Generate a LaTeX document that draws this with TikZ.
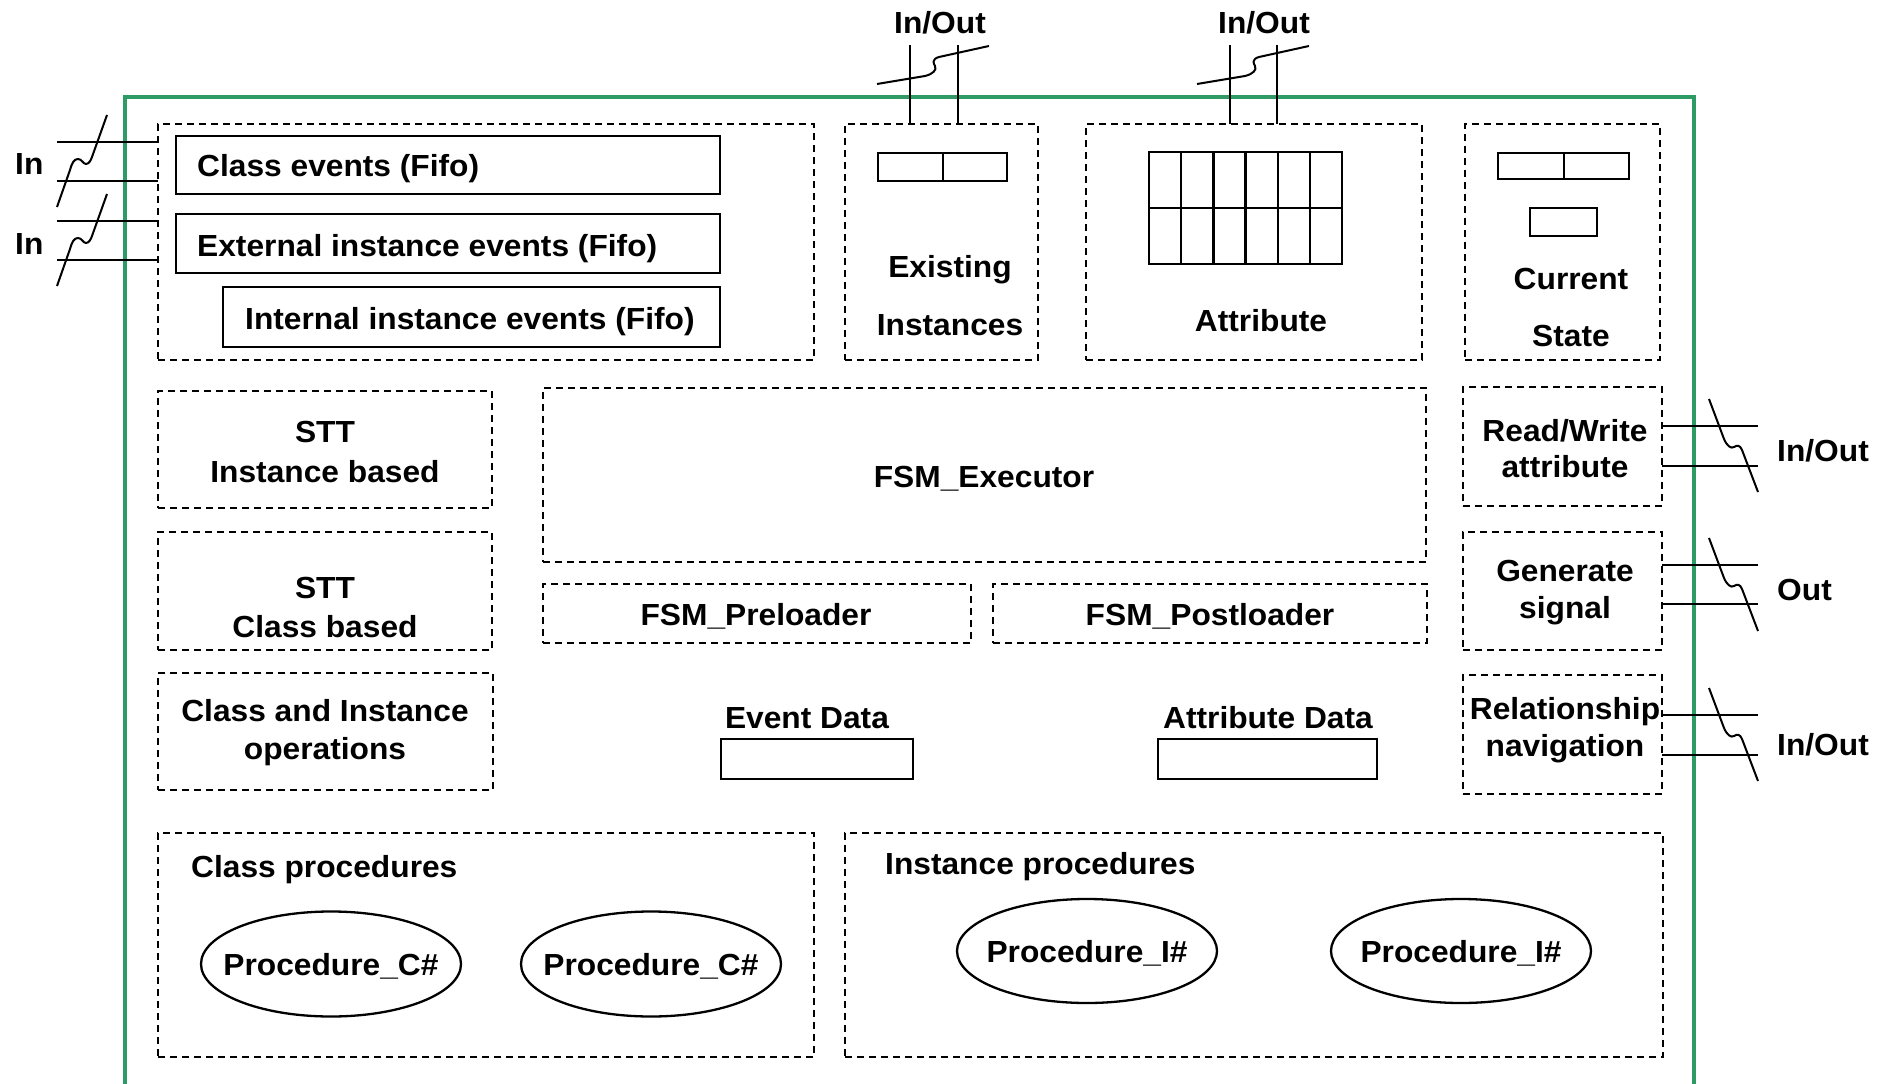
\documentclass[tikz,border=0pt]{standalone}
\usepackage{fontspec}
\usetikzlibrary{shapes.geometric}
\setmainfont{Liberation Sans}[FakeStretch=1.04]
\definecolor{framegreen}{RGB}{46,155,100}
\begin{document}
\begin{tikzpicture}[x=1pt,y=-1pt,
  frame/.style={draw=framegreen,line width=4.5pt},
  dbox/.style={draw,rectangle,inner sep=0pt,outer sep=0pt,line width=1.8pt,
    dash pattern=on 7pt off 5pt,anchor=north west},
  sbox/.style={draw,rectangle,inner sep=0pt,outer sep=0pt,line width=2.3pt,anchor=north west},
  lbl/.style={inner sep=0pt,text height=22pt,text depth=0pt,
    font=\bfseries\fontsize{30.5}{36}\selectfont},
  wire/.style={line width=2pt},
  brk/.style={line width=2pt,line join=round},
  proc/.style={draw,ellipse,line width=2.3pt,minimum width=260pt,minimum height=105pt,inner sep=0pt}
]
\useasboundingbox (0,0) rectangle (1888,1084);

% outer frame, open at the bottom
\draw[frame] (125,1090) -- (125,97) -- (1694,97) -- (1694,1090);

% ---------- top row ----------
\node[dbox,minimum width=656pt,minimum height=236pt] (events) at (158,124) {};
\node[sbox,minimum width=544pt,minimum height=58pt] (classev) at (176,136) {};
\node[sbox,minimum width=544pt,minimum height=59pt] (extev) at (176,214) {};
\node[sbox,minimum width=497pt,minimum height=60pt] (intev) at (223,287) {};
\node[lbl,anchor=west] (t-classev) at (197,165) {Class events (Fifo)};
\node[lbl,anchor=west] (t-extev) at (197,245) {External instance events (Fifo)};
\node[lbl,anchor=west] (t-intev) at (245,318) {Internal instance events (Fifo)};

\node[dbox,minimum width=193pt,minimum height=236pt] (exist) at (845,124) {};
\node[sbox,minimum width=65pt,minimum height=28pt] (excell1) at (878,153) {};
\node[sbox,minimum width=64pt,minimum height=28pt] (excell2) at (943,153) {};
\node[lbl] (t-exist1) at (950,266) {Existing};
\node[lbl] (t-exist2) at (950,324) {Instances};

\node[dbox,minimum width=336pt,minimum height=236pt] (attr) at (1086,124) {};
\foreach \c in {0,...,5}{
  \foreach \r/\ry in {0/152,1/208}{
    \node[sbox,minimum width=32.2pt,minimum height=56pt] (grid-\c-\r) at ({1149+32.2*\c},\ry) {};
  }
}
\node[lbl] (t-attr) at (1261,320) {Attribute};

\node[dbox,minimum width=195pt,minimum height=236pt] (cur) at (1465,124) {};
\node[sbox,minimum width=66pt,minimum height=26pt] (curcell1) at (1498,153) {};
\node[sbox,minimum width=65pt,minimum height=26pt] (curcell2) at (1564,153) {};
\node[sbox,minimum width=67pt,minimum height=28pt] (curcell3) at (1530,208) {};
\node[lbl] (t-cur1) at (1571,278) {Current};
\node[lbl] (t-cur2) at (1571,335) {State};

% ---------- left column ----------
\node[dbox,minimum width=334pt,minimum height=117pt] (sttI) at (158,391) {};
\node[lbl] (t-sttI1) at (325,431) {STT};
\node[lbl] (t-sttI2) at (325,471) {Instance based};
\node[dbox,minimum width=334pt,minimum height=118pt] (sttC) at (158,532) {};
\node[lbl] (t-sttC1) at (325,587) {STT};
\node[lbl] (t-sttC2) at (325,626) {Class based};
\node[dbox,minimum width=335pt,minimum height=117pt] (ops) at (158,673) {};
\node[lbl] (t-ops1) at (325,710) {Class and Instance};
\node[lbl] (t-ops2) at (325,748) {operations};

% ---------- centre ----------
\node[dbox,minimum width=883pt,minimum height=174pt] (exec) at (543,388) {};
\node[lbl] (t-exec) at (984,476) {FSM\_Executor};
\node[dbox,minimum width=428pt,minimum height=59pt] (pre) at (543,584) {};
\node[lbl] (t-pre) at (756,614) {FSM\_Preloader};
\node[dbox,minimum width=434pt,minimum height=59pt] (post) at (993,584) {};
\node[lbl] (t-post) at (1210,614) {FSM\_Postloader};
\node[lbl] (t-evdata) at (807,717) {Event Data};
\node[sbox,minimum width=192pt,minimum height=40pt] (evdata) at (721,739) {};
\node[lbl] (t-atdata) at (1268,717) {Attribute Data};
\node[sbox,minimum width=219pt,minimum height=40pt] (atdata) at (1158,739) {};

% ---------- right column ----------
\node[dbox,minimum width=199pt,minimum height=119pt] (rw) at (1463,387) {};
\node[lbl] (t-rw1) at (1565,430) {Read/Write};
\node[lbl] (t-rw2) at (1565,466) {attribute};
\node[dbox,minimum width=199pt,minimum height=118pt] (gen) at (1463,532) {};
\node[lbl] (t-gen1) at (1565,570) {Generate};
\node[lbl] (t-gen2) at (1565,607) {signal};
\node[dbox,minimum width=199pt,minimum height=119pt] (rel) at (1463,675) {};
\node[lbl] (t-rel1) at (1565,708) {Relationship};
\node[lbl] (t-rel2) at (1565,745) {navigation};

% ---------- procedures ----------
\node[dbox,minimum width=656pt,minimum height=224pt] (cproc) at (158,833) {};
\node[lbl,anchor=west] (t-cproc) at (191,866) {Class procedures};
\node[proc] (pc1) at (331,964) {};
\node[proc] (pc2) at (651,964) {};
\node[lbl] (t-pc1) at (331,964) {Procedure\_C\#};
\node[lbl] (t-pc2) at (651,964) {Procedure\_C\#};

\node[dbox,minimum width=818pt,minimum height=224pt] (iproc) at (845,833) {};
\node[lbl,anchor=west] (t-iproc) at (885,863) {Instance procedures};
\node[proc,minimum height=104pt] (pi1) at (1087,951) {};
\node[proc,minimum height=104pt] (pi2) at (1461,951) {};
\node[lbl] (t-pi1) at (1087,951) {Procedure\_I\#};
\node[lbl] (t-pi2) at (1461,951) {Procedure\_I\#};

% ---------- signal buses ----------
% left inputs
\foreach \y in {142,181,221,260}{
  \coordinate (inw-\y) at (57,\y);
  \draw[wire] (inw-\y) -- (events.west |- inw-\y);
}
\foreach \dy in {0,79}{
  \draw[brk,shift={(57,207+\dy)}] (0,0) -- (13,-37) .. controls (15,-44) and (17,-48) .. (21,-48)
    .. controls (25,-48) and (26,-43) .. (29,-43) .. controls (32,-43) and (34,-47) .. (35,-50) -- (50,-92);
}
\node[lbl,anchor=west] (t-in1) at (15,163) {In};
\node[lbl,anchor=west] (t-in2) at (15,243) {In};

% top in/out
\foreach \x/\bx in {910/exist,958/exist,1230/attr,1277/attr}{
  \coordinate (top-\x) at (\x,45);
  \draw[wire] (top-\x) -- (\bx.north -| top-\x);
}
\foreach \dx in {0,320}{
  \draw[brk,shift={(877+\dx,84)}] (0,0) -- (48,-8) .. controls (56,-10) and (60,-14) .. (58,-18)
    .. controls (56,-21) and (55,-25) .. (62,-27) -- (112,-38);
}
\node[lbl] (t-io1) at (940,23) {In/Out};
\node[lbl] (t-io2) at (1264,23) {In/Out};

% right side
\foreach \y/\bx in {426/rw,466/rw,565/gen,604/gen,715/rel,755/rel}{
  \coordinate (re-\y) at (1758,\y);
  \draw[wire] (\bx.east |- re-\y) -- (re-\y);
}
\foreach \dy in {0,139,289}{
  \draw[brk,shift={(1709,399+\dy)}] (0,0) -- (15,40) .. controls (18,47) and (22,50) .. (25,48)
    .. controls (28,46) and (31,46) .. (33,51) -- (49,93);
}
\node[lbl,anchor=west] (t-io3) at (1777,450) {In/Out};
\node[lbl,anchor=west] (t-out) at (1777,589) {Out};
\node[lbl,anchor=west] (t-io4) at (1777,744) {In/Out};
\end{tikzpicture}
\end{document}
